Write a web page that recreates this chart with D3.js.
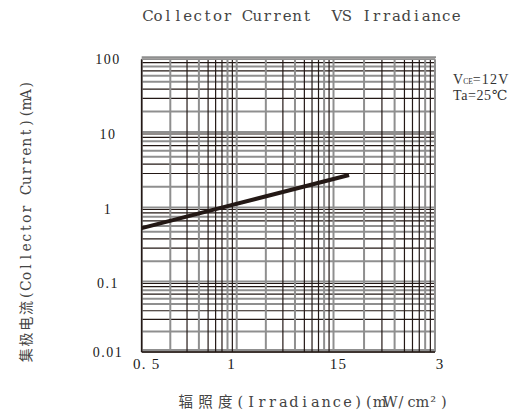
<!DOCTYPE html>
<html>
<head>
<meta charset="utf-8">
<script src="https://cdn.jsdelivr.net/npm/d3@7"></script>
<style>
  html, body { margin: 0; padding: 0; background: #fff; }
  svg { display: block; }
  text { white-space: pre; }
</style>
</head>
<body>
<svg id="chart" width="524" height="414"></svg>
<script>
// ---- data ----
const titleText = "Collector Current  VS Irradiance";
const xTitle = "辐照度(Irradiance)(mW/cm²)";
const yTitle = "集极电流(Collector Current)(mA)";
const yDecades = [0.01, 0.1, 1, 10, 100];
const yTickLabels = ["0.01", "0.1", "1", "10", "100"];
const xTickValues = [0.5, 1, 1.5, 3];
const xTickLabels = ["0. 5", "1", "15", "3"];
const paperCycles = [1, 10, 100, 1000];
const minorSteps = [1, 2, 3, 4, 5, 6, 7, 8, 9];
const irradiance = [0.5, 1.0, 1.73];
const current = [0.56, 1.10, 2.86];

// ---- styles ----
const BLACK = "#231815", GREY = "#8f8f8f";
const hKind = {1: "both", 2: "g", 3: "b", 4: "b", 5: "g", 6: "g", 7: "b", 8: "g", 9: "b"};
const vKind = {1: "g", 2: "g", 3: "b", 4: "g", 5: "b", 6: "b", 7: "b", 8: "g", 9: "b"};
const serif = "'Liberation Serif','DejaVu Serif',serif";
const mixed = "'DejaVu Serif','Noto Sans CJK SC',serif";

const svg = d3.select("#chart");

// scales (piecewise to follow the printed log paper)
const y = d3.scaleLog().domain(yDecades).range([352, 283.5, 209.5, 134, 59.3]);
const xPaper = d3.scaleLog().domain(paperCycles).range([141.7, 236.7, 333.5, 435]);
const x = d3.scaleLinear().domain(xTickValues).range([141.7, 226.5, 333.5, 435]);

const x0 = xPaper(1), x1 = xPaper(1000), y0 = y(0.01), y1 = y(100);
const grid = svg.append("g");

// horizontal grid
const hLines = [];
yDecades.slice(0, -1).forEach(d => minorSteps.forEach(k => hLines.push({v: d * k, k})));
hLines.push({v: 100, k: 1});
hLines.forEach(l => {
  const kind = hKind[l.k];
  const yy = y(l.v);
  if (kind === "g" || kind === "both") {
    grid.append("line").attr("x1", x0).attr("x2", x1 + 1)
      .attr("y1", kind === "both" ? yy - 2 : yy).attr("y2", kind === "both" ? yy - 2 : yy)
      .attr("stroke", GREY).attr("stroke-width", 2);
  }
  if (kind === "b" || kind === "both") {
    grid.append("line").attr("x1", x0).attr("x2", x1)
      .attr("y1", yy).attr("y2", yy)
      .attr("stroke", BLACK).attr("stroke-width", 1.2);
  }
});

// vertical grid
const vLines = [];
paperCycles.slice(0, -1).forEach(c => minorSteps.forEach(k => vLines.push({v: c * k, k})));
vLines.push({v: 1000, k: 1});
vLines.forEach(l => {
  const xx = xPaper(l.v);
  const kind = vKind[l.k];
  grid.append("line").attr("x1", xx).attr("x2", xx).attr("y1", y1).attr("y2", y0)
    .attr("stroke", kind === "g" ? GREY : BLACK)
    .attr("stroke-width", kind === "g" ? 2 : 1.2);
});

// frame
svg.append("line").attr("x1", x0).attr("x2", x0).attr("y1", y1).attr("y2", y0)
  .attr("stroke", BLACK).attr("stroke-width", 1.4);
svg.append("line").attr("x1", x0).attr("x2", x1).attr("y1", y0).attr("y2", y0)
  .attr("stroke", BLACK).attr("stroke-width", 1.4);
svg.append("line").attr("x1", x0).attr("x2", x1).attr("y1", y1).attr("y2", y1)
  .attr("stroke", GREY).attr("stroke-width", 1.6);

// data line
svg.append("path")
  .datum(irradiance.map((v, i) => [v, current[i]]))
  .attr("fill", "none").attr("stroke", BLACK).attr("stroke-width", 4)
  .attr("d", d3.line().x(d => x(d[0])).y(d => y(d[1])));

// y tick labels
svg.append("g").selectAll("text").data(yDecades).join("text")
  .attr("x", 108).attr("y", d => y(d) + 4.5)
  .attr("text-anchor", "middle")
  .attr("font-family", serif).attr("font-size", 14)
  .attr("letter-spacing", 1.5).attr("fill", "#1a1a1a")
  .text((d, i) => yTickLabels[i]);

// x tick labels
svg.append("g").selectAll("text").data(xTickValues).join("text")
  .attr("x", d => x(d) + 5).attr("y", 369)
  .attr("text-anchor", "middle")
  .attr("font-family", serif).attr("font-size", 15)
  .attr("letter-spacing", 1.2).attr("fill", "#1a1a1a")
  .text((d, i) => xTickLabels[i]);

// monospaced-cell text: one text element, each glyph centered in its own cell
const isCJK = ch => /[\u3000-\u9fff\uff00-\uffef]/.test(ch);
function cellText(parent, str, startX, latAdv, cjkAdv) {
  const chars = Array.from(str);
  let pos = startX;
  const xs = chars.map(ch => {
    const a = isCJK(ch) ? cjkAdv : latAdv;
    const c = pos + a / 2;
    pos += a;
    return c.toFixed(2);
  });
  return parent.append("text").attr("text-anchor", "middle")
    .attr("font-family", mixed)
    .attr("x", xs.join(" ")).attr("y", 0)
    .text(str);
}

// title
const gT = svg.append("g").attr("transform", "translate(0,21)")
  .attr("font-size", 15).attr("fill", "#444");
cellText(gT, titleText, 143, 9.94, 15);

// x axis title
const gX = svg.append("g").attr("transform", "translate(0,407)")
  .attr("font-size", 14.5).attr("fill", "#444");
cellText(gX, xTitle, 176, 10.7, 19.7);

// y axis title
const gY = svg.append("g").attr("transform", "translate(31,363) rotate(-90)")
  .attr("font-size", 14).attr("fill", "#444");
cellText(gY, yTitle, 0, 9.57, 15.75);

// conditions legend
const lg = svg.append("g").attr("font-family", serif).attr("font-size", 14).attr("fill", "#333");
const t1 = lg.append("text").attr("x", 453).attr("y", 84);
t1.append("tspan").text("V");
t1.append("tspan").attr("font-size", 7.5).text("CE");
t1.append("tspan").attr("letter-spacing", 1.2).text("=12V");
lg.append("text").attr("x", 453).attr("y", 100).attr("letter-spacing", 0.6).text("Ta=25℃");
</script>
</body>
</html>
